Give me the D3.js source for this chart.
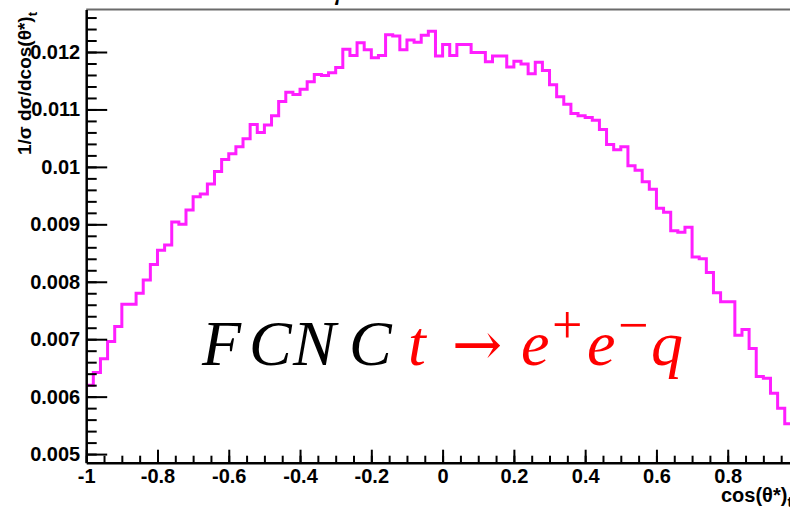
<!DOCTYPE html>
<html>
<head>
<meta charset="utf-8">
<script src="https://cdn.jsdelivr.net/npm/d3@7"></script>
<style>
  html, body { margin: 0; padding: 0; background: #fff; overflow: hidden; }
  svg { display: block; }
  .tick text { font-family: "Liberation Sans", Arial, sans-serif; font-weight: bold; }
</style>
</head>
<body>
<svg id="chart" width="790" height="518"></svg>
<script>
// cos(theta*) distribution, 100 bins over [-1, 1]
const binCount = 100;
const binLow = -1;
const binHigh = 1;
const binValues = [
  0.00620, 0.00642, 0.00666, 0.00696, 0.00722, 0.00761, 0.00761, 0.00780, 0.00803, 0.00830,
  0.00855, 0.00864, 0.00904, 0.00900, 0.00925, 0.00948, 0.00953, 0.00970, 0.00992, 0.01013,
  0.01023, 0.01035, 0.01049, 0.01074, 0.01060, 0.01073, 0.01089, 0.01114, 0.01130, 0.01126,
  0.01135, 0.01148, 0.01161, 0.01159, 0.01164, 0.01173, 0.01205, 0.01194, 0.01216, 0.01204,
  0.01190, 0.01194, 0.01230, 0.01228, 0.01204, 0.01221, 0.01217, 0.01229, 0.01236, 0.01193,
  0.01213, 0.01194, 0.01213, 0.01213, 0.01199, 0.01199, 0.01183, 0.01193, 0.01193, 0.01174,
  0.01184, 0.01179, 0.01162, 0.01182, 0.01168, 0.01143, 0.01122, 0.01109, 0.01093, 0.01089,
  0.01086, 0.01081, 0.01065, 0.01039, 0.01030, 0.01035, 0.01002, 0.00994, 0.00974, 0.00961,
  0.00928, 0.00921, 0.00889, 0.00886, 0.00895, 0.00843, 0.00840, 0.00816, 0.00781, 0.00765,
  0.00765, 0.00707, 0.00717, 0.00684, 0.00635, 0.00632, 0.00606, 0.00580, 0.00553, 0.00490
];

// axis ticks and labels
const xTicks = [-1, -0.8, -0.6, -0.4, -0.2, 0, 0.2, 0.4, 0.6, 0.8];
const xTickLabels = ["-1", "-0.8", "-0.6", "-0.4", "-0.2", "0", "0.2", "0.4", "0.6", "0.8"];
const yTicks = [0.005, 0.006, 0.007, 0.008, 0.009, 0.010, 0.011, 0.012];
const yTickLabels = ["0.005", "0.006", "0.007", "0.008", "0.009", "0.01", "0.011", "0.012"];
const yRange = [0.00485, 0.01274];

const xTitle = "cos(θ*)";
const yTitle = "1/σ dσ/dcos(θ*)";
const subscript = "t";

const svg = d3.select("#chart");

const frame = { left: 86.2, right: 799, top: 9.5, bottom: 462.7 };

const x = d3.scaleLinear().domain([binLow, binHigh]).range([frame.left, frame.right]);
const y = d3.scaleLinear().domain(yRange).range([frame.bottom, frame.top]);

// frame top border
svg.append("line")
  .attr("x1", frame.left).attr("x2", frame.right)
  .attr("y1", frame.top).attr("y2", frame.top)
  .attr("stroke", "#6b6b6b").attr("stroke-width", 2);

// histogram contour
const binWidth = (binHigh - binLow) / binCount;
const steps = binValues.map((v, i) => [binLow + i * binWidth, v]);
steps.push([binHigh, binValues[binValues.length - 1]]);

svg.append("path")
  .datum(steps)
  .attr("fill", "none")
  .attr("stroke", "#ff1eff")
  .attr("stroke-width", 3)
  .attr("stroke-linejoin", "miter")
  .attr("d", d3.line().x(d => x(d[0])).y(d => y(d[1])).curve(d3.curveStepAfter));

// y axis: major + minor ticks pointing inward
const yMinor = d3.range(0, 40).map(k => 0.0048 + k * 0.0002)
  .filter(v => v >= yRange[0] && v <= yRange[1]);

const yAxisMinor = svg.append("g")
  .attr("transform", `translate(${frame.left},0)`)
  .call(d3.axisLeft(y).tickValues(yMinor).tickSizeInner(-10.5).tickSizeOuter(0).tickFormat(""));
yAxisMinor.select(".domain").remove();
yAxisMinor.selectAll(".tick line").attr("stroke", "#000").attr("stroke-width", 2);

const yAxis = svg.append("g")
  .attr("transform", `translate(${frame.left},0)`)
  .call(d3.axisLeft(y).tickValues(yTicks).tickSizeInner(-21).tickSizeOuter(0).tickPadding(6)
    .tickFormat((d, i) => yTickLabels[i]));
yAxis.select(".domain").attr("stroke", "#000").attr("stroke-width", 2.5);
yAxis.selectAll(".tick line").attr("stroke", "#000").attr("stroke-width", 2);
yAxis.selectAll(".tick text").attr("font-size", 20).attr("fill", "#000");

// x axis: major + minor ticks pointing inward
const xMinor = d3.range(0, 41).map(k => -1 + k * 0.05);

const xAxisMinor = svg.append("g")
  .attr("transform", `translate(0,${frame.bottom})`)
  .call(d3.axisBottom(x).tickValues(xMinor).tickSizeInner(-7).tickSizeOuter(0).tickFormat(""));
xAxisMinor.select(".domain").remove();
xAxisMinor.selectAll(".tick line").attr("stroke", "#000").attr("stroke-width", 2);

const xAxis = svg.append("g")
  .attr("transform", `translate(0,${frame.bottom})`)
  .call(d3.axisBottom(x).tickValues(xTicks).tickSizeInner(-13).tickSizeOuter(0).tickPadding(6)
    .tickFormat((d, i) => xTickLabels[i]));
xAxis.select(".domain").attr("stroke", "#000").attr("stroke-width", 2.5);
xAxis.selectAll(".tick line").attr("stroke", "#000").attr("stroke-width", 2);
xAxis.selectAll(".tick text").attr("font-size", 20).attr("fill", "#000");

// axis titles
const yt = svg.append("text")
  .attr("transform", "translate(31,12) rotate(-90)")
  .attr("text-anchor", "end")
  .attr("font-family", "'Liberation Sans', Arial, sans-serif")
  .attr("font-weight", "bold")
  .attr("font-size", 19)
  .attr("fill", "#000");
yt.append("tspan").text(yTitle);
yt.append("tspan").attr("font-size", 13).attr("dy", 6).text(subscript);

const xt = svg.append("text")
  .attr("x", 721)
  .attr("y", 502)
  .attr("font-family", "'Liberation Sans', Arial, sans-serif")
  .attr("font-weight", "bold")
  .attr("font-size", 20)
  .attr("fill", "#000");
xt.append("tspan").text(xTitle);
xt.append("tspan").attr("font-size", 14).attr("dy", 5).text(subscript);

// plot title, above the canvas edge
svg.append("text")
  .attr("x", 333).attr("y", -1)
  .attr("font-family", "'Liberation Serif', 'Times New Roman', serif")
  .attr("font-style", "italic")
  .attr("font-size", 30)
  .attr("fill", "#000")
  .text("γ");

// process label
const serif = "'Liberation Serif', 'Times New Roman', serif";
const label = svg.append("g")
  .attr("font-family", serif)
  .attr("font-size", 64);

const labelBase = 365;
label.append("text")
  .attr("y", labelBase)
  .attr("fill", "#000")
  .attr("font-style", "italic")
  .selectAll("tspan")
  .data([["F", 202], ["C", 249], ["N", 293], ["C", 349]])
  .join("tspan")
  .attr("x", d => d[1])
  .text(d => d[0]);

const red = "#ff0000";
label.append("text").attr("x", 408).attr("y", labelBase).attr("fill", red)
  .attr("font-style", "italic").text("t");
label.append("text").attr("x", 452).attr("y", labelBase).attr("fill", red)
  .attr("font-family", "'DejaVu Serif', serif")
  .attr("font-size", 60).text("→");
label.append("text").attr("x", 521).attr("y", labelBase).attr("fill", red)
  .attr("font-style", "italic").text("e");
label.append("text").attr("x", 552).attr("y", 343).attr("fill", red)
  .attr("font-size", 54).text("+");
label.append("text").attr("x", 587).attr("y", labelBase).attr("fill", red)
  .attr("font-style", "italic").text("e");
label.append("text").attr("x", 618).attr("y", 343).attr("fill", red)
  .attr("font-size", 54).text("−");
label.append("text").attr("x", 651).attr("y", labelBase).attr("fill", red)
  .attr("font-style", "italic").text("q");
</script>
</body>
</html>
